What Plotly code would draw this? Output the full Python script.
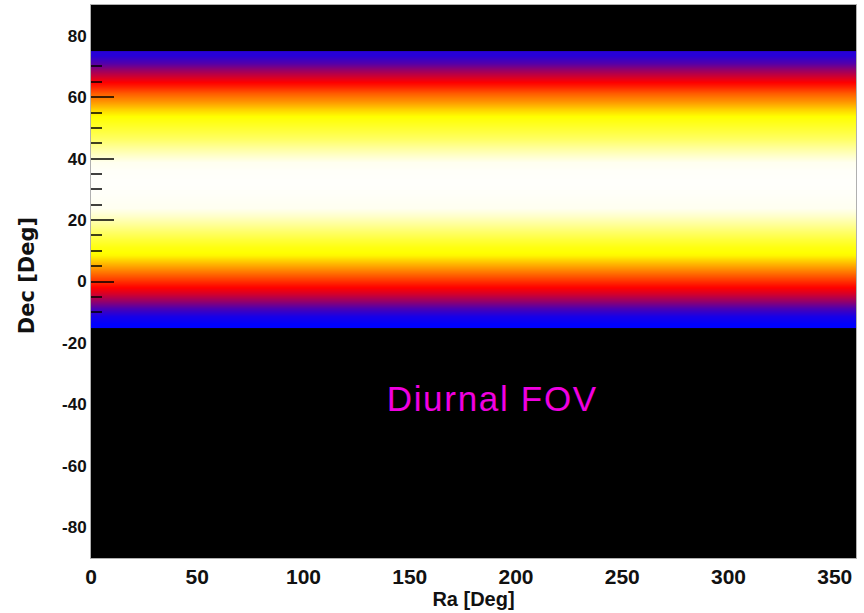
import plotly.graph_objects as go

ra = [0, 90, 180, 270, 360]
dec = [-13.75, -11.25, -8.75, -6.25, -3.75, -1.25, 1.25, 3.75, 6.25, 8.75, 11.25, 13.75,
       16.25, 18.75, 21.25, 23.75, 26.25, 28.75, 31.25, 33.75, 36.25, 38.75, 41.25, 43.75,
       46.25, 48.75, 51.25, 53.75, 56.25, 58.75, 61.25, 63.75, 66.25, 68.75, 71.25, 73.75]
coverage = [0.0, 0.03, 0.10, 0.19, 0.28, 0.35, 0.42, 0.50, 0.58, 0.65, 0.68, 0.73,
            0.78, 0.84, 0.89, 0.93, 0.95, 0.97, 0.98, 0.98, 0.97, 0.93, 0.89, 0.84,
            0.78, 0.74, 0.70, 0.66, 0.60, 0.52, 0.45, 0.37, 0.29, 0.20, 0.11, 0.05]
y_ticks = [-80, -60, -40, -20, 0, 20, 40, 60, 80]
y_tick_labels = ["-80", "-60", "-40", "-20", "0", "20", "40", "60", "80"]
y_minor_ticks = [-10, -5, 5, 10, 15, 25, 30, 35, 45, 50, 55, 65, 70]
x_ticks = [0, 50, 100, 150, 200, 250, 300, 350]
colorscale = [[0, "#0000ff"], [0.33, "#ff0000"], [0.66, "#ffff00"],
              [0.84, "#ffff99"], [0.93, "#fffff0"], [1, "#ffffff"]]

fig = go.Figure(go.Heatmap(
    x=ra, y=dec, z=[[v] * len(ra) for v in coverage],
    colorscale=colorscale, zmin=0, zmax=1, zsmooth="best", showscale=False,
    hoverinfo="skip",
))

tick_font = "Liberation Sans, Arial, sans-serif"
fig.update_layout(
    width=864, height=613,
    margin=dict(l=91, r=8, t=5, b=55),
    paper_bgcolor="white",
    plot_bgcolor="black",
    showlegend=False,
    xaxis=dict(
        range=[0, 360], tickvals=x_ticks, ticks="inside", ticklen=20, tickcolor="black",
        showgrid=False, zeroline=False, showline=True, linecolor="#b0b0b0", linewidth=1,
        mirror=True, layer="above traces",
        tickfont=dict(family=tick_font, size=21, color="#111111", weight="bold"),
        title=dict(text="Ra [Deg]", standoff=2,
                   font=dict(family=tick_font, size=20, color="#111111", weight="bold")),
    ),
    yaxis=dict(
        range=[-90, 90], tickvals=y_ticks, ticktext=y_tick_labels, ticks="inside", ticklen=23,
        tickcolor="rgba(0,0,0,0.75)", tickwidth=1.5,
        showgrid=False, zeroline=False, showline=True, linecolor="#b0b0b0", linewidth=1,
        mirror=True, layer="above traces",
        minor=dict(tickvals=y_minor_ticks, ticks="inside", ticklen=11,
                   tickcolor="rgba(0,0,0,0.75)", tickwidth=1.5),
        tickfont=dict(family=tick_font, size=17, color="#111111", weight="bold"),
        title=dict(text="Dec [Deg]", standoff=14,
                   font=dict(family="DejaVu Sans, sans-serif", size=21, color="#111111", weight="bold")),
    ),
    annotations=[dict(
        x=189, y=-38, xref="x", yref="y", text="Diurnal FOV", showarrow=False,
        font=dict(family="Liberation Sans, Arial, sans-serif", size=35, color="#f000e0"),
    )],
)
post = """
document.body.style.margin = '0';
document.querySelectorAll('.annotation-text').forEach(function (t) { t.style.letterSpacing = '1.7px'; });
var yt = document.querySelector('.ytitle');
if (yt) { yt.setAttribute('transform', 'translate(-7,-6) ' + (yt.getAttribute('transform') || '')); }
"""
fig.write_html("out.html", post_script=post, config={"displayModeBar": False})
